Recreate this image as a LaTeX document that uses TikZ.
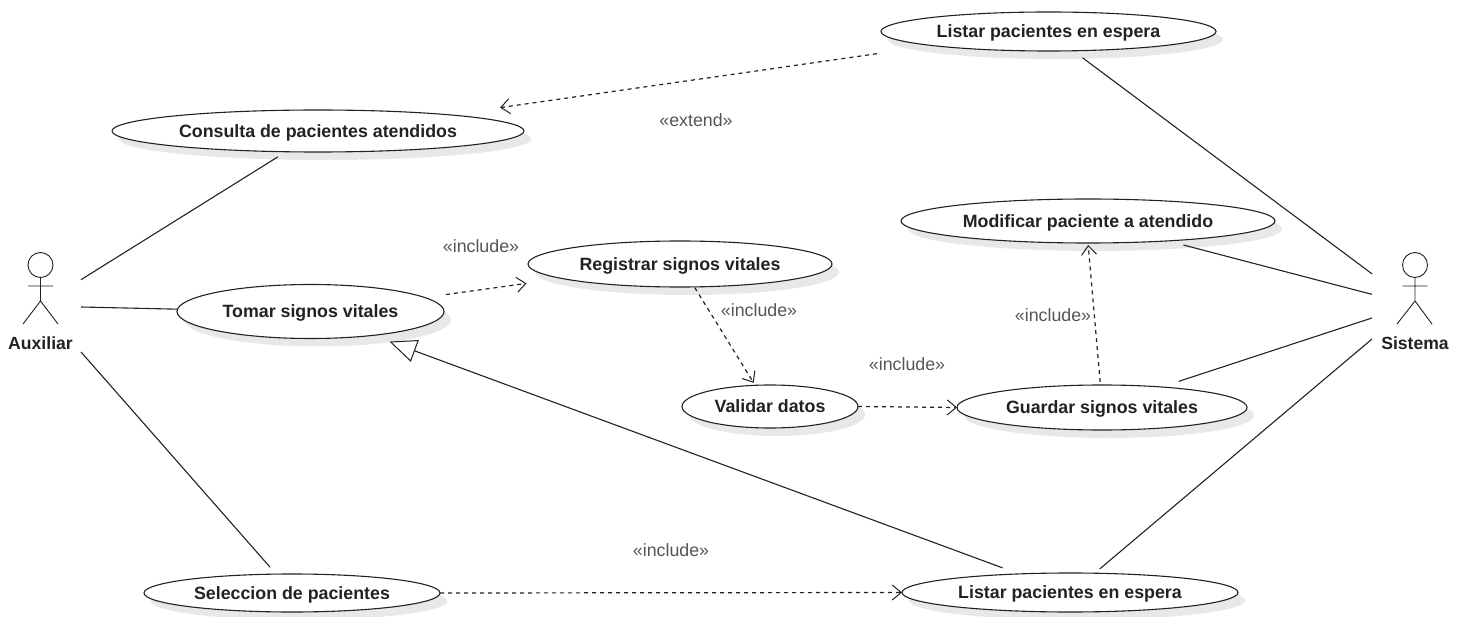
\documentclass[tikz,border=0pt]{standalone}
\usepackage{fontspec}
\setmainfont{Liberation Sans}
\usetikzlibrary{shapes.geometric,arrows.meta,shadows}
\definecolor{ink}{HTML}{222222}
\definecolor{lab}{HTML}{555555}
\tikzset{
  uc/.style={ellipse,draw=ink,line width=1.1pt,fill=white,inner sep=0pt,outer sep=0pt,
    minimum width=#1,text height=13pt,text depth=.8pt,
    drop shadow={shadow xshift=7pt,shadow yshift=-8pt,fill=black!9,opacity=1},
    font=\fontsize{17.8}{20}\selectfont\bfseries,text=ink},
  ucbox/.style args={#1 and #2}{uc=#1,minimum height=#2},
  assoc/.style={draw=ink,line width=1.1pt},
  dep/.style={draw=ink,line width=1.2pt,dash pattern=on 4pt off 4pt,-{Straight Barb[length=9pt,width=15pt,line width=1pt]}},
  gen/.style={draw=ink,line width=1.1pt,-{Triangle[open,length=27pt,width=23pt,fill=white,line width=1pt]}},
  actorzone/.style={rectangle,inner sep=0pt,outer sep=0pt,minimum width=#1,minimum height=100pt},
  actorline/.style={draw=ink,line width=.9pt},
  actorname/.style={font=\fontsize{17.6}{20}\selectfont\bfseries,text=ink,inner sep=0pt},
  stereo/.style={font=\fontsize{17.8}{20}\selectfont,text=lab,inner sep=0pt}
}
\begin{document}
\begin{tikzpicture}[x=1pt,y=-1pt]
\useasboundingbox (0,0) rectangle (1464,617);
% use cases
\node[ucbox={335pt and 39pt}] (listarA) at (1048.5,31.5) {Listar pacientes en espera};
\node[ucbox={412pt and 42pt}] (consulta) at (318,131) {Consulta de pacientes atendidos};
\node[ucbox={374pt and 44pt}] (modificar) at (1088,221) {Modificar paciente a atendido};
\node[ucbox={304pt and 46pt}] (registrar) at (680,264) {Registrar signos vitales};
\node[ucbox={267pt and 54pt}] (tomar) at (310.5,311.5) {Tomar signos vitales};
\node[ucbox={176pt and 43pt}] (validar) at (770,406.5) {Validar datos};
\node[ucbox={290pt and 45pt}] (guardar) at (1102,407.5) {Guardar signos vitales};
\node[ucbox={296pt and 38pt}] (seleccion) at (292,593) {Seleccion de pacientes};
\node[ucbox={336pt and 39pt}] (listarB) at (1070,592.5) {Listar pacientes en espera};
% actors
\node[actorzone=81pt] (auxiliar) at (40.5,307) {};
\node[actorzone=88pt] (sistema) at (1416,307) {};
\node[circle,draw=ink,line width=.9pt,minimum size=25pt,inner sep=0pt] (auxhead) at (40.5,265) {};
\coordinate (auxhip) at (40.5,301);
\coordinate (auxarmL) at (28,286);
\coordinate (auxarmR) at (53,286);
\coordinate (auxlegL) at (23,324);
\coordinate (auxlegR) at (58,324);
\draw[actorline] (auxhead.south) -- (auxhip) (auxarmL) -- (auxarmR) (auxlegL) -- (auxhip) -- (auxlegR);
\node[actorname] (auxname) at (40.5,343.5) {Auxiliar};
\node[circle,draw=ink,line width=.9pt,minimum size=25pt,inner sep=0pt] (sishead) at (1415,265) {};
\coordinate (siship) at (1415,301);
\coordinate (sisarmL) at (1402.5,286);
\coordinate (sisarmR) at (1427.5,286);
\coordinate (sislegL) at (1397,324);
\coordinate (sislegR) at (1432,324);
\draw[actorline] (sishead.south) -- (siship) (sisarmL) -- (sisarmR) (sislegL) -- (siship) -- (sislegR);
\node[actorname] (sisname) at (1415,343.5) {Sistema};
% associations
\draw[assoc,shorten >=9.6pt] (auxiliar.34.66) -- (consulta.213);
\draw[assoc] (auxiliar.0) -- (tomar.179);
\draw[assoc,shorten >=9.2pt] (auxiliar.-48) -- (seleccion.130.2);
\draw[assoc,shorten <=11.6pt] (listarA.-38.3) -- (sistema.143.97);
\draw[assoc,shorten <=16.2pt] (modificar.-14.3) -- (sistema.164.74);
\draw[assoc,shorten <=18pt] (guardar.19.2) -- (sistema.194.04);
\draw[assoc,shorten <=6.7pt] (listarB.38.1) -- (sistema.216.03);
% dependencies
\draw[dep,shorten <=56.8pt,shorten >=51pt] (listarA.187.94) -- (consulta.7.82);
\draw[dep,shorten <=21.5pt,shorten >=35.8pt] (tomar.7.47) -- (registrar.187.08);
\draw[dep,shorten <=1pt,shorten >=2.9pt] (registrar.-58) -- (validar.125.9);
\draw[dep] (validar.0) -- (guardar.180);
\draw[dep,shorten <=3pt,shorten >=2pt] (guardar.94.5) -- (modificar.-90);
\draw[dep] (seleccion.0) -- (listarB.180);
% generalisation
\draw[gen,shorten <=17.5pt,shorten >=17.9pt] (listarB.160.2) -- (tomar.-21.2);
% stereotypes
\node[stereo] (s1) at (696,120.5) {«extend»};
\node[stereo] (s2) at (481,246.5) {«include»};
\node[stereo] (s3) at (759,310.5) {«include»};
\node[stereo] (s4) at (907,364.5) {«include»};
\node[stereo] (s5) at (1053,315.5) {«include»};
\node[stereo] (s6) at (671,550.5) {«include»};
\end{tikzpicture}
\end{document}
